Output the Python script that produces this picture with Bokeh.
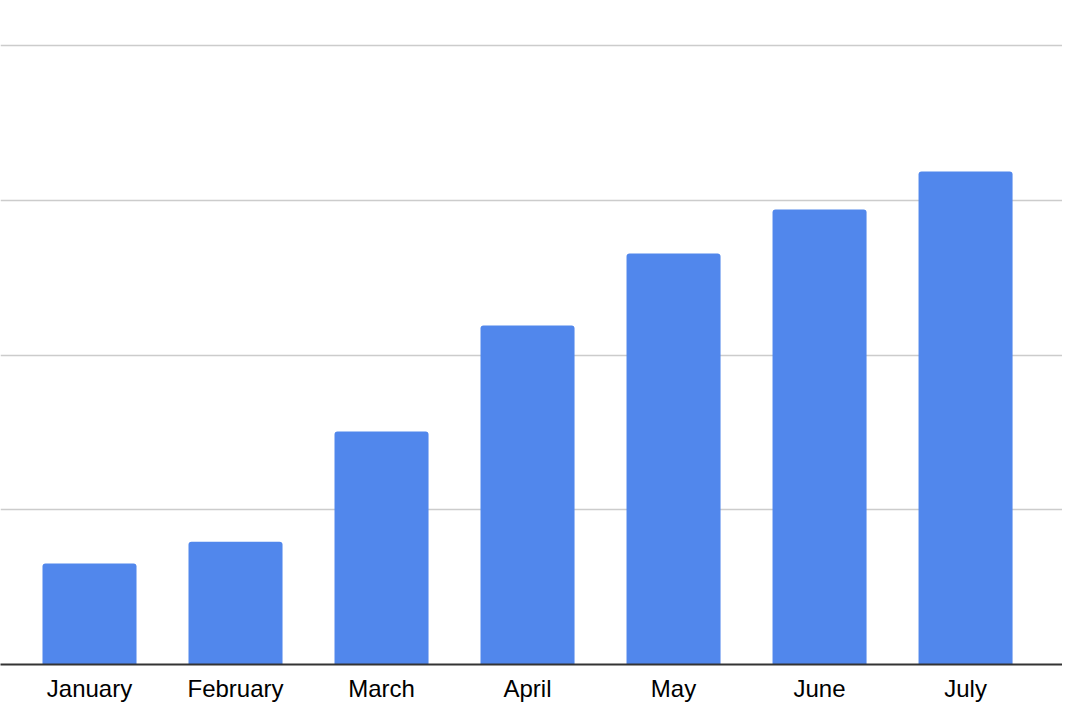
from bokeh.plotting import figure
from bokeh.models import Range1d, FixedTicker, ColumnDataSource
from bokeh.embed import file_html
from bokeh.resources import INLINE

months = ["January", "February", "March", "April", "May", "June", "July"]
values = [32.6, 39.7, 75.3, 109.5, 132.8, 147.0, 159.3]
grid_ticks = [50, 100, 150, 200]

idx = list(range(len(months)))
src = ColumnDataSource(data=dict(x=idx, top=values, month=months))

p = figure(width=1062, height=720, output_backend="svg", toolbar_location=None,
           x_range=Range1d(-0.6096, 6.664), y_range=Range1d(0, 214.54),
           min_border_left=0, min_border_right=0, min_border_top=0, min_border_bottom=56)

p.vbar(x="x", top="top", width=0.644, source=src, color="#5187EC",
       line_color=None, border_radius=(3, 3, 0, 0))

p.outline_line_color = None
p.background_fill_color = "white"
p.border_fill_color = "white"

p.xgrid.visible = False
p.ygrid.ticker = FixedTicker(ticks=grid_ticks)
p.ygrid.grid_line_color = "#cccccc"
p.ygrid.grid_line_width = 1.5

p.yaxis.visible = False

xa = p.xaxis[0]
xa.ticker = FixedTicker(ticks=idx)
xa.major_label_overrides = {i: m for i, m in zip(idx, months)}
xa.axis_line_color = "#333333"
xa.axis_line_width = 2
xa.major_tick_line_color = None
xa.minor_tick_line_color = None
xa.major_tick_out = 0
xa.major_tick_in = 0
xa.major_label_standoff = 10
xa.major_label_text_font = "Liberation Sans"
xa.major_label_text_font_size = "24px"
xa.major_label_text_color = "#000000"

open("out.html", "w").write(file_html(p, INLINE))
